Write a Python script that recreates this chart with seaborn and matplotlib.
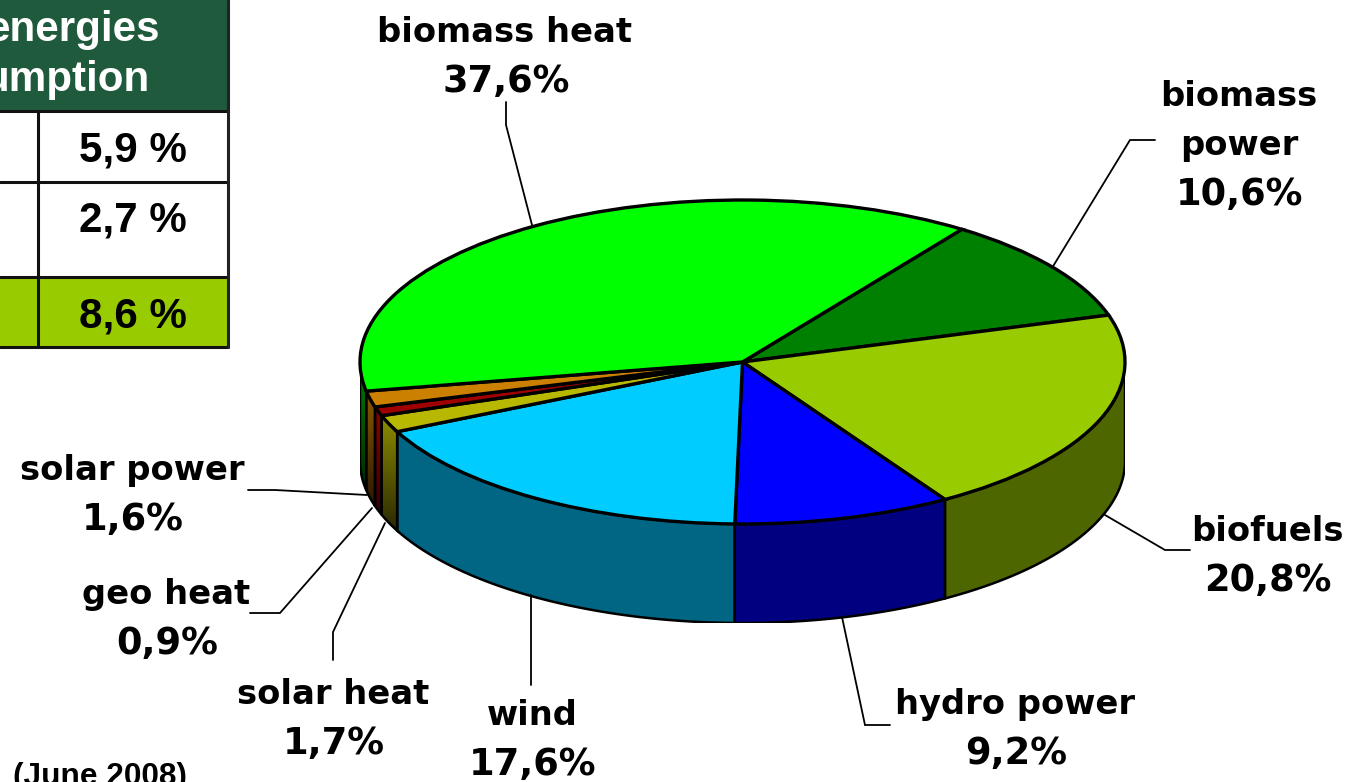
import numpy as np
import matplotlib
matplotlib.use("Agg")
import matplotlib.pyplot as plt
from matplotlib.colors import LinearSegmentedColormap
from matplotlib.patches import Polygon, Rectangle
import seaborn as sns

# ── Data ──────────────────────────────────────────────────────────────────────
names = ["biomass\npower", "biofuels", "hydro power", "wind", "solar heat",
         "geo heat", "solar power", "biomass heat"]
shares = [10.6, 20.8, 9.2, 17.6, 1.7, 0.9, 1.6, 37.6]
table_values = ["5,9 %", "2,7 %", "8,6 %"]
header_lines = ["energies", "umption"]
footnote = "(June 2008)"

top_colors = ["#008000", "#99cc00", "#0000ff", "#00ccff",
              "#b8b800", "#a00000", "#cc8000", "#00ff00"]
wall_top = ["#006600", "#4d6600", "#000080", "#006684",
            "#8c8c00", "#900000", "#8a5a00", "#008000"]
wall_bot = ["#006600", "#4d6600", "#000080", "#006684",
            "#2a2800", "#300000", "#2a1800", "#002a00"]

# ── Layout (pixels of the 1361x782 picture) ───────────────────────────────────
W, H = 1361, 782
PIE_L, PIE_R, PIE_T, PIE_B = 360, 1125, 200, 524
DEPTH = 99 / ((PIE_B - PIE_T) / 2)   # wall height in ellipse units
START = 55.0

label_xy = [(1239, 168), (1267, 554), (1015, 727), (532, 738),
            (333, 717), (166, 617), (132, 493), (505, 55)]
leaders = [
    [(1155, 140), (1130, 140), (1052, 268)],
    [(1105, 515), (1165, 550), (1190, 550)],
    [(842, 617), (865, 725), (890, 725)],
    [(531, 595), (531, 685)],
    [(385, 523), (333, 632), (333, 660)],
    [(372, 508), (280, 613), (250, 613)],
    [(367, 495), (275, 490), (248, 490)],
    [(506, 102), (506, 125), (532, 225)],
]

sns.set_theme(style="white")
plt.rcParams["font.family"] = ["DejaVu Sans"]

fig = plt.figure(figsize=(W / 100, H / 100), dpi=100, facecolor="white")

# ── Pie: squashed axes turn the circle into the tilted ellipse ────────────────
pie_h = PIE_B - PIE_T + 99
ax = fig.add_axes([PIE_L / W, 1 - (PIE_T + pie_h) / H, (PIE_R - PIE_L) / W, pie_h / H])
ax.pie(shares, startangle=START, counterclock=False,
       colors=sns.color_palette(top_colors),
       wedgeprops=dict(edgecolor="black", linewidth=2.4, zorder=5))

edges = START - np.cumsum([0] + shares) * 3.6
for i in range(len(shares)):
    # only the part of a slice on the front half of the ellipse shows a wall
    a1 = min(edges[i], 0)
    a2 = max(edges[i + 1], -180)
    if a1 <= a2:
        continue
    t = np.radians(np.linspace(a1, a2, 80))
    x, y = np.cos(t), np.sin(t)
    pts = np.r_[np.c_[x, y], np.c_[x[::-1], y[::-1] - DEPTH]]
    ax.add_patch(Polygon(pts, closed=True, facecolor="none", edgecolor="black",
                         linewidth=1.8, zorder=3))
    cmap = LinearSegmentedColormap.from_list("wall", [wall_top[i], wall_bot[i]])
    im = ax.imshow(np.linspace(0, 1, 64)[:, None], cmap=cmap, aspect="auto", zorder=2,
                   extent=(x.min(), x.max(), (y - DEPTH).min(), y.max()))
    im.set_clip_path(Polygon(pts, closed=True, transform=ax.transData))
ax.set_xlim(-1, 1)
ax.set_ylim(-1 - DEPTH, 1)
ax.set_aspect("auto")
ax.axis("off")

# ── Overlay in picture pixels: labels, leaders, table ─────────────────────────
ov = fig.add_axes([0, 0, 1, 1], facecolor="none")
ov.set_xlim(0, W)
ov.set_ylim(H, 0)
ov.axis("off")

for name, share, (lx, ly), path in zip(names, shares, label_xy, leaders):
    value = f"{share:.1f}%".replace(".", ",")
    ov.text(lx, ly - 13, name, ha="center", va="baseline", fontsize=24.3,
            fontweight="bold", color="black", linespacing=1.6)
    ov.text(lx + 1, ly + 37, value, ha="center", va="baseline", fontsize=26.5,
            fontweight="bold", color="black")
    ov.plot(*zip(*path), color="black", lw=1.3, solid_joinstyle="miter")

TBL_R, TBL_COL = 228, 38
row_edges = [111, 182, 277, 347]
ov.add_patch(Rectangle((0, 0), TBL_R, row_edges[0], facecolor="#1f5a3c", edgecolor="none"))
ov.add_patch(Rectangle((0, row_edges[2]), TBL_R, row_edges[3] - row_edges[2],
                       facecolor="#99cc00", edgecolor="none"))
for yy in row_edges:
    ov.plot([0, TBL_R], [yy, yy], color="#111111", lw=2.2)
ov.plot([TBL_R, TBL_R], [0, row_edges[-1]], color="#222222", lw=2.2)
ov.plot([TBL_COL, TBL_COL], [row_edges[0], row_edges[-1]], color="#111111", lw=2.2)

tf = dict(family="Liberation Sans", fontweight="bold", fontsize=30.3)
ov.text(160, 30, header_lines[0], ha="right", va="center", color="white", **tf)
ov.text(150, 80, header_lines[1], ha="right", va="center", color="white", **tf)
for val, yy in zip(table_values, [151, 221, 317]):
    ov.text(133, yy, val, ha="center", va="center", color="black", **tf)

ov.text(100, 762, footnote, ha="center", va="top", family="Liberation Sans",
        fontweight="bold", fontsize=22.8, color="black")

fig.savefig("out.png", dpi=100)
plt.close(fig)
